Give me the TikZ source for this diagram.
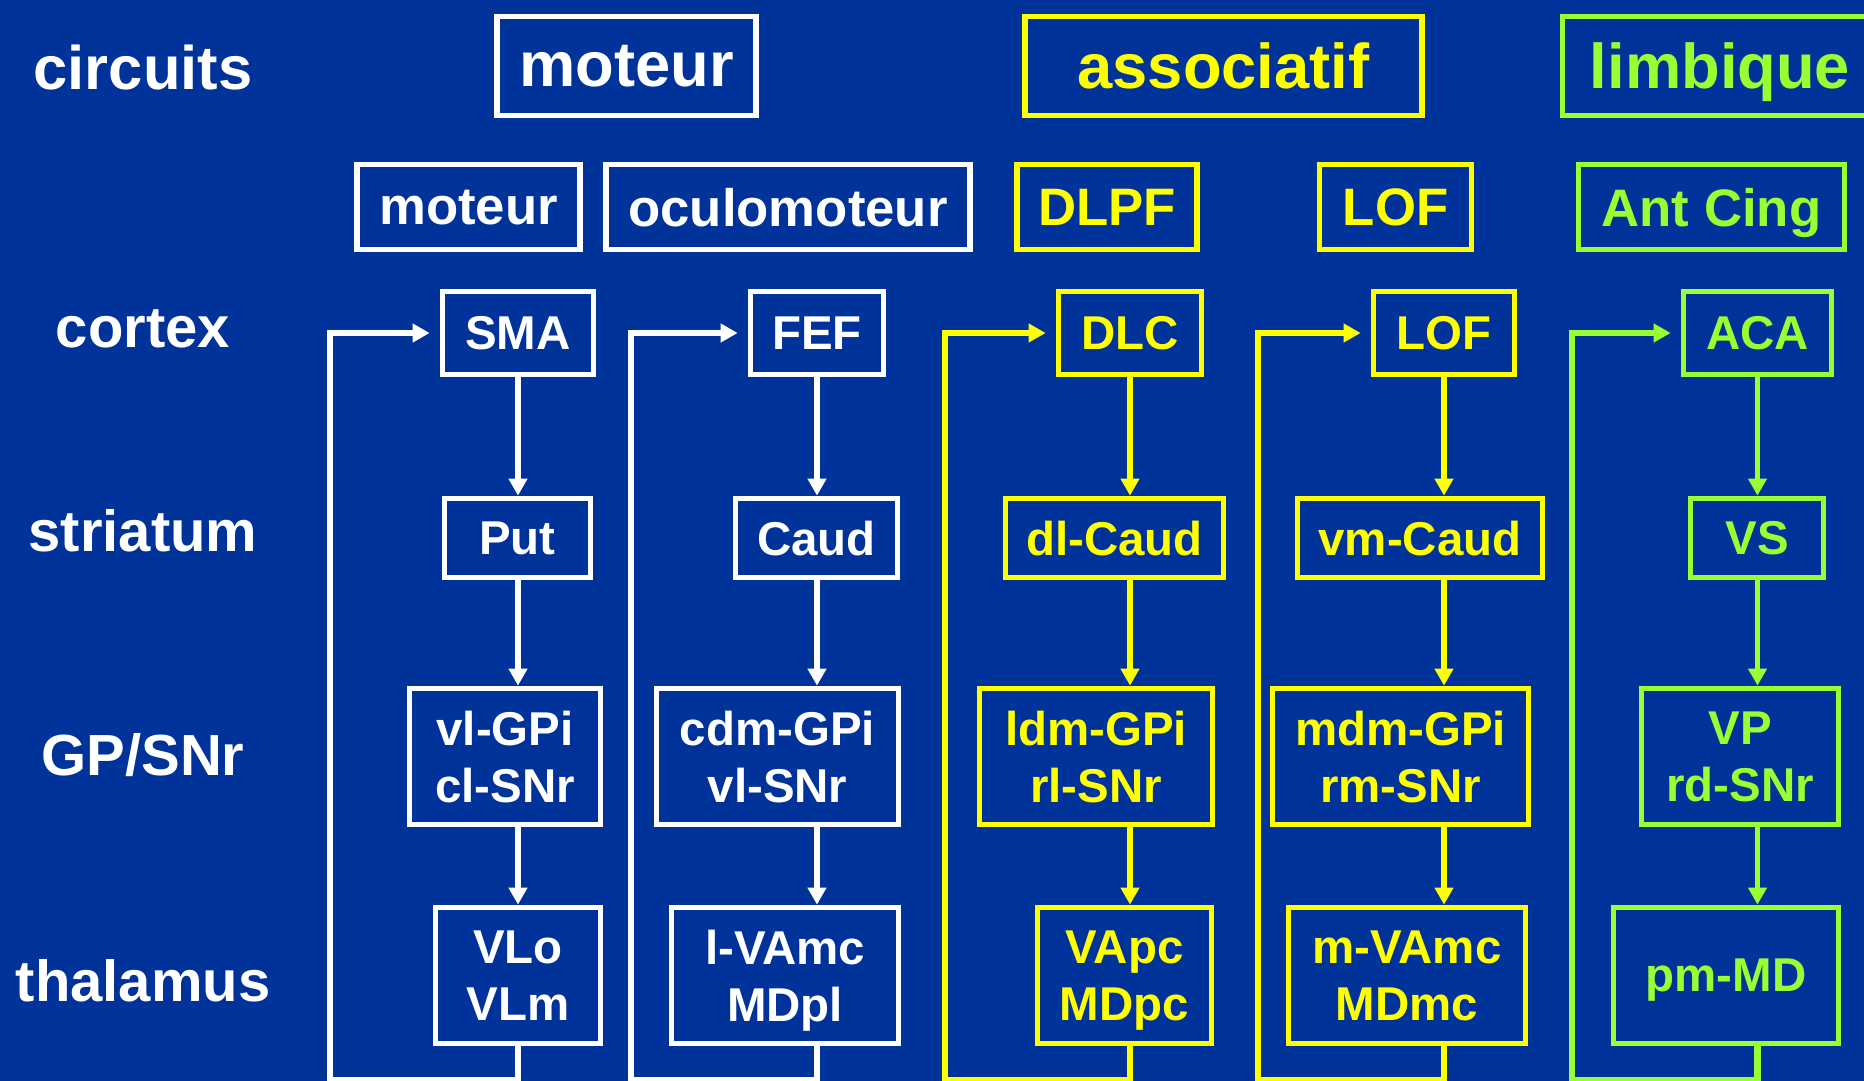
\documentclass[tikz,border=0pt]{standalone}
\usepackage{fontspec}
\setmainfont{Liberation Sans}
\usetikzlibrary{arrows.meta}
\definecolor{slideblue}{RGB}{0,51,153}
\definecolor{assocyellow}{RGB}{255,255,0}
\definecolor{limbgreen}{RGB}{153,255,51}
\tikzset{
  box/.style={draw=#1, text=#1, line width=1.15mm, align=center, inner sep=0pt, text depth=0pt, font=\bfseries\fontsize{27}{32.4}\selectfont},
  circbox/.style={box=#1, font=\bfseries\fontsize{36}{43}\selectfont},
  subbox/.style={box=#1, font=\bfseries\fontsize{30}{36}\selectfont},
  rowlbl/.style={text=white, font=\bfseries\fontsize{33}{40}\selectfont},
  arrow/.style={draw=#1, -{Triangle[length=3.4mm,width=3.6mm]}, line width=1.1mm},
  looparrow/.style={arrow=#1, line width=1.25mm, shorten >=2mm}
}

\begin{document}
\begin{tikzpicture}[cort/.style={minimum height=1.66cm}, stri/.style={minimum height=1.58cm}, pall/.style={minimum height=2.72cm}, thal/.style={minimum height=2.72cm}]
\clip (0,0) rectangle (37.28,-21.62);
\fill[slideblue] (0,0) rectangle (37.28,-21.62);
% ---- row labels ----
\node[rowlbl, font=\bfseries\fontsize{35}{42}\selectfont] (lcirc) at (2.86,-1.36) {circuits};
\node[rowlbl] (lcort) at (2.86,-6.58) {cortex};
\node[rowlbl] (lstri) at (2.86,-10.62) {striatum};
\node[rowlbl] (lgp) at (2.86,-15.10) {GP/SNr};
\node[rowlbl] (lthal) at (2.86,-19.62) {thalamus};
% ---- circuits ----
\node[circbox=white, minimum width=5.18cm, minimum height=1.98cm] (cmot) at (12.53,-1.32) {moteur};
\node[circbox=assocyellow, minimum width=7.94cm, minimum height=1.98cm] (cass) at (24.47,-1.32) {associatif};
\node[circbox=limbgreen, minimum width=6.30cm, minimum height=1.98cm] (clim) at (34.40,-1.32) {limbique};
\node[subbox=white, minimum width=4.46cm, minimum height=1.70cm] (mot) at (9.37,-4.14) {moteur};
\node[subbox=white, minimum width=7.27cm, minimum height=1.70cm] (ocu) at (15.76,-4.14) {oculomoteur};
\node[subbox=assocyellow, minimum width=3.61cm, minimum height=1.70cm] (dlpf) at (22.14,-4.14) {DLPF};
\node[subbox=assocyellow, minimum width=3.04cm, minimum height=1.70cm] (lof) at (27.91,-4.14) {LOF};
\node[subbox=limbgreen, minimum width=5.32cm, minimum height=1.70cm] (ant) at (34.23,-4.14) {Ant Cing};
% ---- cortex ----
\node[box=white, cort, minimum width=3.02cm] (sma) at (10.36,-6.66) {SMA};
\node[box=white, cort, minimum width=2.66cm] (fef) at (16.34,-6.66) {FEF};
\node[box=assocyellow, cort, minimum width=2.86cm] (dlc) at (22.60,-6.66) {DLC};
\node[box=assocyellow, cort, minimum width=2.82cm] (lofc) at (28.88,-6.66) {LOF};
\node[box=limbgreen, cort, minimum width=2.96cm] (aca) at (35.15,-6.66) {ACA};
% ---- striatum ----
\node[box=white, stri, minimum width=2.92cm] (put) at (10.35,-10.76) {Put};
\node[box=white, stri, minimum width=3.24cm] (caud) at (16.33,-10.76) {Caud};
\node[box=assocyellow, stri, minimum width=4.36cm] (dlcd) at (22.29,-10.76) {dl-Caud};
\node[box=assocyellow, stri, minimum width=4.90cm] (vmcd) at (28.40,-10.76) {vm-Caud};
\node[box=limbgreen, stri, minimum width=2.66cm] (vs) at (35.14,-10.76) {VS};
% ---- GP/SNr ----
\node[box=white, pall, minimum width=3.82cm] (gpm) at (10.10,-15.13) {vl-GPi\\cl-SNr};
\node[box=white, pall, minimum width=4.84cm] (gpo) at (15.55,-15.13) {cdm-GPi\\vl-SNr};
\node[box=assocyellow, pall, minimum width=4.66cm] (gpd) at (21.92,-15.13) {ldm-GPi\\rl-SNr};
\node[box=assocyellow, pall, minimum width=5.12cm] (gpl) at (28.01,-15.13) {mdm-GPi\\rm-SNr};
\node[box=limbgreen, pall, minimum width=3.94cm] (vp) at (34.80,-15.13) {VP\\rd-SNr};
% ---- thalamus ----
\node[box=white, thal, minimum width=3.30cm] (thm) at (10.36,-19.51) {VLo\\VLm};
\node[box=white, thal, minimum width=4.54cm] (tho) at (15.70,-19.51) {l-VAmc\\MDpl};
\node[box=assocyellow, thal, minimum width=3.48cm] (thd) at (22.49,-19.51) {VApc\\MDpc};
\node[box=assocyellow, thal, minimum width=4.74cm] (thl) at (28.14,-19.51) {m-VAmc\\MDmc};
\node[box=limbgreen, thal, minimum width=4.50cm] (pmd) at (34.52,-19.51) {pm-MD};
% ---- loop corners ----
\coordinate (lpm) at (6.60,-21.61);
\coordinate (lpo) at (12.62,-21.61);
\coordinate (lpd) at (18.90,-21.61);
\coordinate (lpl) at (25.16,-21.61);
\coordinate (lpa) at (31.44,-21.61);
% ---- moteur ----
\draw[arrow=white] (sma.south) -- (sma.south |- put.north);
\draw[arrow=white] (sma |- put.south) -- (sma |- gpm.north);
\draw[arrow=white] (sma |- gpm.south) -- (sma |- thm.north);
\draw[looparrow=white] (sma |- thm.south) |- (lpm) |- (sma.west);
% ---- oculomoteur ----
\draw[arrow=white] (fef.south) -- (fef.south |- caud.north);
\draw[arrow=white] (fef |- caud.south) -- (fef |- gpo.north);
\draw[arrow=white] (fef |- gpo.south) -- (fef |- tho.north);
\draw[looparrow=white] (fef |- tho.south) |- (lpo) |- (fef.west);
% ---- DLPF ----
\draw[arrow=assocyellow] (dlc.south) -- (dlc.south |- dlcd.north);
\draw[arrow=assocyellow] (dlc |- dlcd.south) -- (dlc |- gpd.north);
\draw[arrow=assocyellow] (dlc |- gpd.south) -- (dlc |- thd.north);
\draw[looparrow=assocyellow] (dlc |- thd.south) |- (lpd) |- (dlc.west);
% ---- LOF ----
\draw[arrow=assocyellow] (lofc.south) -- (lofc.south |- vmcd.north);
\draw[arrow=assocyellow] (lofc |- vmcd.south) -- (lofc |- gpl.north);
\draw[arrow=assocyellow] (lofc |- gpl.south) -- (lofc |- thl.north);
\draw[looparrow=assocyellow] (lofc |- thl.south) |- (lpl) |- (lofc.west);
% ---- Ant Cing ----
\draw[arrow=limbgreen] (aca.south) -- (aca.south |- vs.north);
\draw[arrow=limbgreen] (aca |- vs.south) -- (aca |- vp.north);
\draw[arrow=limbgreen] (aca |- vp.south) -- (aca |- pmd.north);
\draw[looparrow=limbgreen] (aca |- pmd.south) |- (lpa) |- (aca.west);
\end{tikzpicture}
\end{document}
